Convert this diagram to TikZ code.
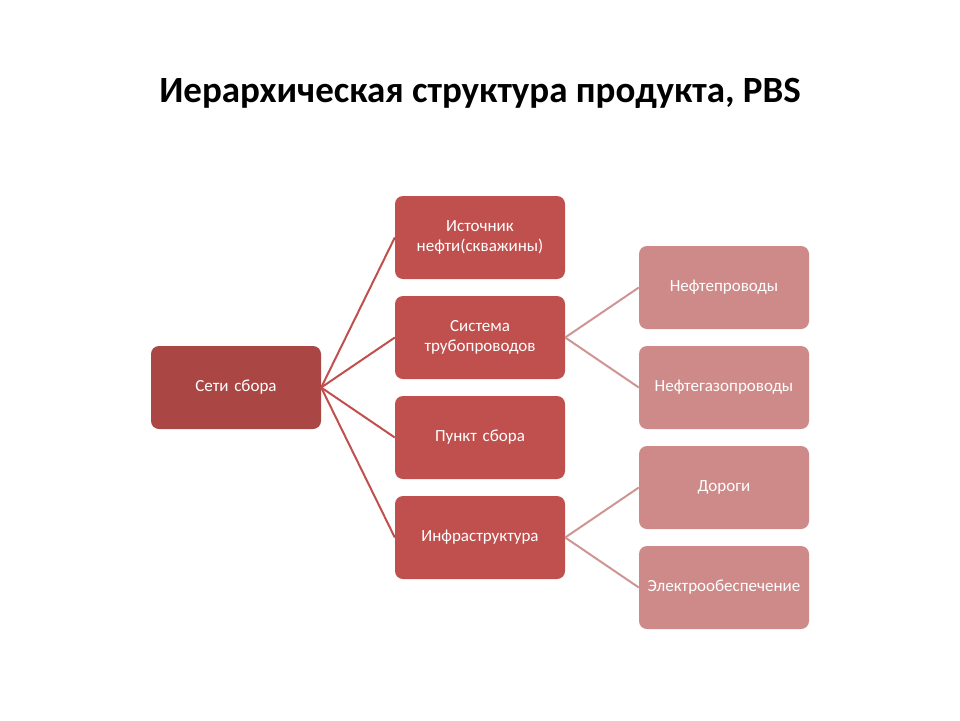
\documentclass[tikz,border=0pt]{standalone}
\usepackage{fontspec}
\setmainfont{Carlito}
\definecolor{rootc}{HTML}{AA4643}
\definecolor{midc}{HTML}{C0504D}
\definecolor{leafc}{HTML}{CD8A88}
\definecolor{linea}{HTML}{C0504D}
\definecolor{lineb}{HTML}{D09593}
\begin{document}
\begin{tikzpicture}[x=1pt,y=-1pt,
  box/.style={rounded corners=8pt, minimum width=170pt, minimum height=83pt, inner sep=2pt,
    text=white, align=center, font=\fontsize{17}{20.5}\selectfont, text width=166pt},
  rootbox/.style={box, fill=rootc},
  midbox/.style={box, fill=midc},
  leafbox/.style={box, fill=leafc},
  conna/.style={draw=linea, line width=2pt},
  connb/.style={draw=lineb, line width=2pt}]
\useasboundingbox (0,0) rectangle (960,720);
\node[font=\bfseries\fontsize{37}{44}\selectfont] (title) at (480,93) {Иерархическая структура продукта, PBS};
\node[rootbox] (root) at (236,387.5) {Сети сбора};
\node[midbox] (m1) at (480,237.5) {Источник\\нефти(скважины)};
\node[midbox] (m2) at (480,337.5) {Система\\трубопроводов};
\node[midbox] (m3) at (480,437.5) {Пункт сбора};
\node[midbox] (m4) at (480,537.5) {Инфраструктура};
\node[leafbox] (l1) at (724,287.5) {Нефтепроводы};
\node[leafbox] (l2) at (724,387.5) {Нефтегазопроводы};
\node[leafbox] (l3) at (724,487.5) {Дороги};
\node[leafbox] (l4) at (724,587.5) {Электрообеспечение};
\foreach \m in {m1,m2,m3,m4} \draw[conna] (root.east) -- (\m.west);
\draw[connb] (m2.east) -- (l1.west);
\draw[connb] (m2.east) -- (l2.west);
\draw[connb] (m4.east) -- (l3.west);
\draw[connb] (m4.east) -- (l4.west);
\end{tikzpicture}
\end{document}
